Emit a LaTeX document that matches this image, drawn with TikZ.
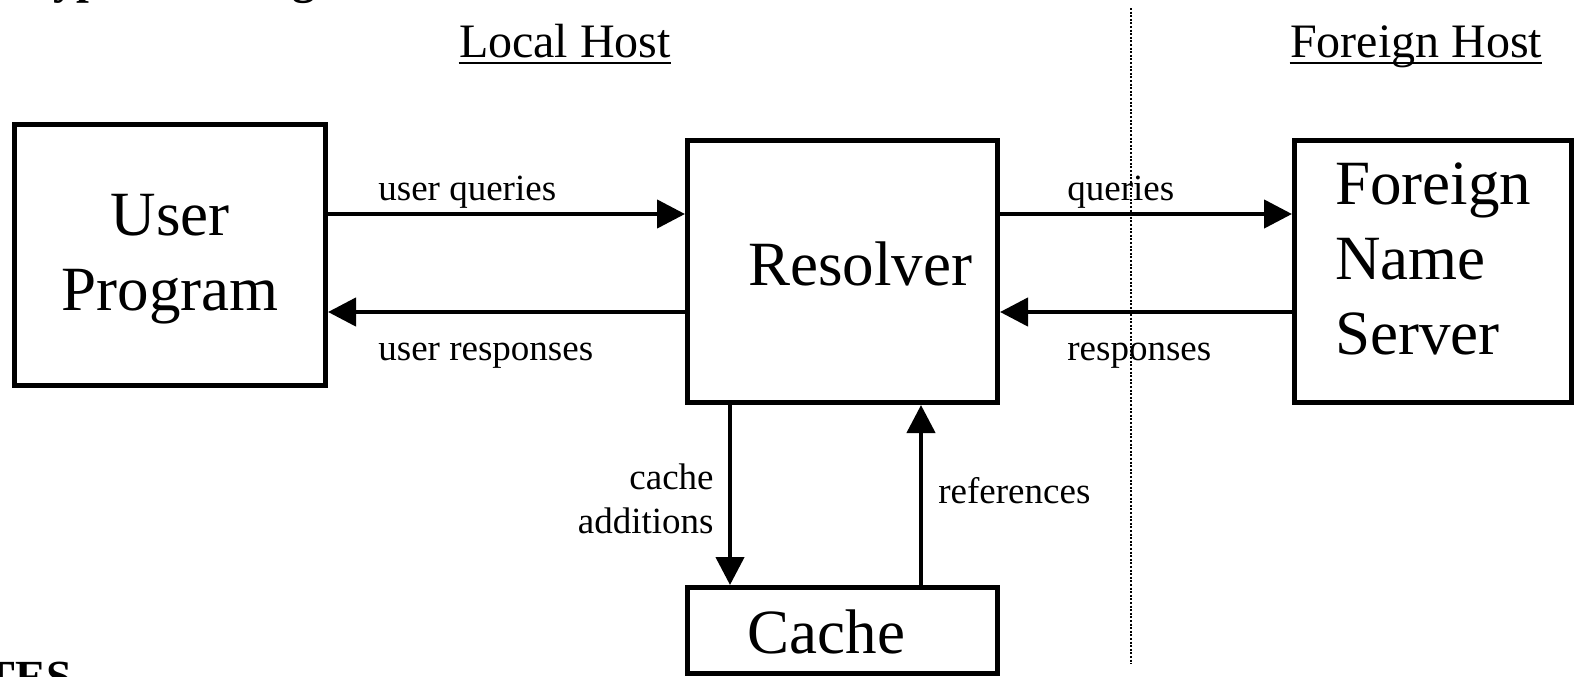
\documentclass[tikz,border=0pt]{standalone}
\usepackage{fontspec}
\setmainfont{Liberation Serif}
\usetikzlibrary{arrows.meta}

\tikzset{
  box/.style={draw, line width=2.3pt, inner sep=0pt,
    font=\fontsize{31.5}{37.5}\selectfont},
  flow/.style={line width=2.2pt, -{Triangle[length=14pt,width=14pt]}},
  lbl/.style={inner sep=0pt, font=\fontsize{18.5}{22}\selectfont},
  host/.style={inner sep=0pt, font=\fontsize{24}{28}\selectfont},
  heading/.style={inner sep=0pt, font=\bfseries\fontsize{23}{27}\selectfont},
  underbar/.style={line width=1.3pt},
  divider/.style={line width=1.2pt, dash pattern=on 1pt off 0.8pt},
}

\begin{document}
\begin{tikzpicture}[x=0.5pt,y=-0.5pt]
  \useasboundingbox (0,0) rectangle (1577,676);
  \clip (0,0) rectangle (1577,676);

  % page headings that run off the edges
  \node[heading, anchor=base west] (title) at (26,-7) {Typical Configuration};
  \node[heading, anchor=base east] (notes) at (72,692) {NOTES};

  % host captions
  \node[host, anchor=base] (localhost) at (565,57) {Local Host};
  \node[host, anchor=base] (foreignhost) at (1416,57) {Foreign Host};
  \draw[underbar] ([yshift=-3pt]localhost.base west) -- ([yshift=-3pt]localhost.base east);
  \draw[underbar] ([yshift=-3pt]foreignhost.base west) -- ([yshift=-3pt]foreignhost.base east);

  % components
  \node[box, minimum width=155.7pt, minimum height=130.7pt, align=center]
    (user) at (170,255) {\rule{0pt}{25pt}User\\Program};
  \node[box, minimum width=155.2pt, minimum height=131.2pt,
        text height=16.75pt, text depth=3.25pt]
    (resolver) at (842.5,271.5) {\hspace*{17.5pt}Resolver};
  \node[box, minimum width=138.7pt, minimum height=131.2pt, align=left]
    (fns) at (1433,271.5) {Foreign\\Name\\Server\rule[-13pt]{0pt}{13pt}};
  \node[box, minimum width=155.2pt, minimum height=43.2pt,
        text height=26pt, text depth=3.5pt]
    (cache) at (842.5,630.5) {Cache\hspace*{16pt}};

  % arrow rows and columns
  \coordinate (upper) at (0,214);
  \coordinate (lower) at (0,312);
  \coordinate (downx) at (730,0);
  \coordinate (upx) at (921,0);

  \draw[flow] (user.east |- upper) -- (resolver.west |- upper);
  \draw[flow] (resolver.west |- lower) -- (user.east |- lower);
  \draw[flow] (resolver.east |- upper) -- (fns.west |- upper);
  \draw[flow] (fns.west |- lower) -- (resolver.east |- lower);
  \draw[flow] (resolver.south -| downx) -- (cache.north -| downx);
  \draw[flow] (cache.north -| upx) -- (resolver.south -| upx);

  % arrow labels
  \node[lbl, anchor=base west] (uq) at (378,200) {user queries};
  \node[lbl, anchor=base west] (ur) at (378,360) {user responses};
  \node[lbl, anchor=base west] (q) at (1067,200) {queries};
  \node[lbl, anchor=base west] (r) at (1067,360) {responses};
  \node[lbl, anchor=east, align=right] (ca) at (714,499) {cache\\additions};
  \node[lbl, anchor=base west] (refs) at (938,503) {references};

  % host boundary
  \coordinate (divtop) at (1131,8);
  \coordinate (divbot) at (1131,664);
  \draw[divider] (divtop) -- (divbot);
\end{tikzpicture}
\end{document}
